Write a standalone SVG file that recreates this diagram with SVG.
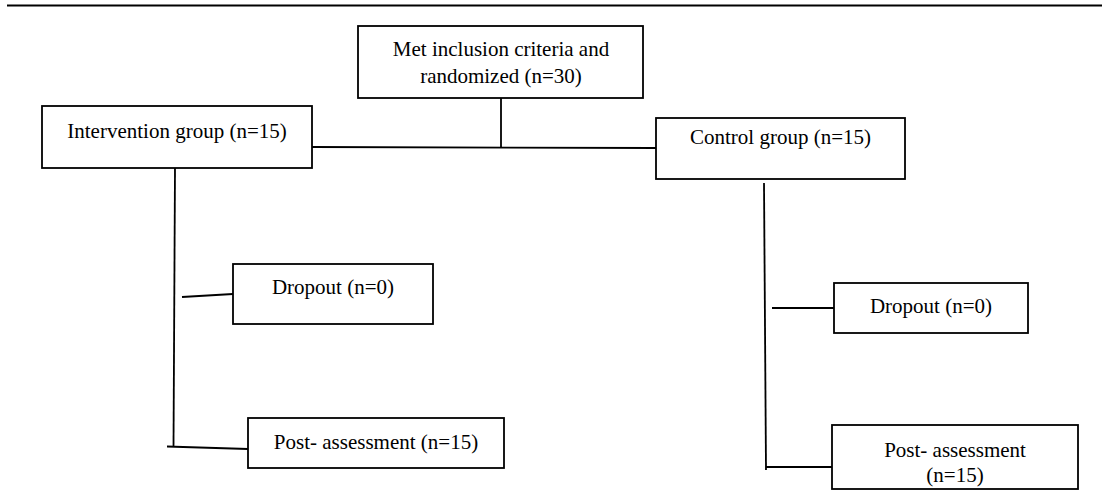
<svg xmlns="http://www.w3.org/2000/svg" width="1110" height="504" viewBox="0 0 1110 504">
<style>
.box{fill:#fff;stroke:#000;stroke-width:1.8}
.t{font-family:"Liberation Serif","Times New Roman",serif;font-size:21px;fill:#000;text-anchor:middle}
.c{stroke:#000;stroke-width:1.8;fill:none}
</style>
<rect width="1110" height="504" fill="#fff"/>
<line x1="7" y1="5.5" x2="1102" y2="5.5" stroke="#000" stroke-width="2.2"/>
<g id="connectors">
<line class="c" x1="501" y1="98" x2="501" y2="148"/>
<line class="c" x1="312" y1="147" x2="656" y2="148"/>
<line class="c" x1="175" y1="168" x2="173.5" y2="447"/>
<line class="c" x1="182" y1="297" x2="233" y2="294"/>
<line class="c" x1="167" y1="446.5" x2="248" y2="449"/>
<line class="c" x1="764" y1="183" x2="766" y2="470"/>
<line class="c" x1="772" y1="308" x2="834" y2="308"/>
<line class="c" x1="766" y1="467" x2="832" y2="467"/>
</g>
<g id="randomized">
<rect class="box" x="358" y="26" width="285" height="72"/>
<text class="t" x="501" y="56">Met inclusion criteria and</text>
<text class="t" x="501" y="83">randomized (n=30)</text>
</g>
<g id="intervention">
<rect class="box" x="42" y="106" width="270" height="62"/>
<text class="t" x="177" y="138">Intervention group (n=15)</text>
</g>
<g id="control">
<rect class="box" x="656" y="118" width="249" height="61"/>
<text class="t" x="780.5" y="144">Control group (n=15)</text>
</g>
<g id="dropout-left">
<rect class="box" x="233" y="264" width="200" height="60"/>
<text class="t" x="333" y="294">Dropout (n=0)</text>
</g>
<g id="post-left">
<rect class="box" x="248" y="418" width="256" height="50"/>
<text class="t" x="376" y="449">Post- assessment (n=15)</text>
</g>
<g id="dropout-right">
<rect class="box" x="834" y="283" width="194" height="50"/>
<text class="t" x="931" y="313">Dropout (n=0)</text>
</g>
<g id="post-right">
<rect class="box" x="832" y="425" width="246" height="64"/>
<text class="t" x="955" y="457">Post- assessment</text>
<text class="t" x="955" y="482">(n=15)</text>
</g>
</svg>
